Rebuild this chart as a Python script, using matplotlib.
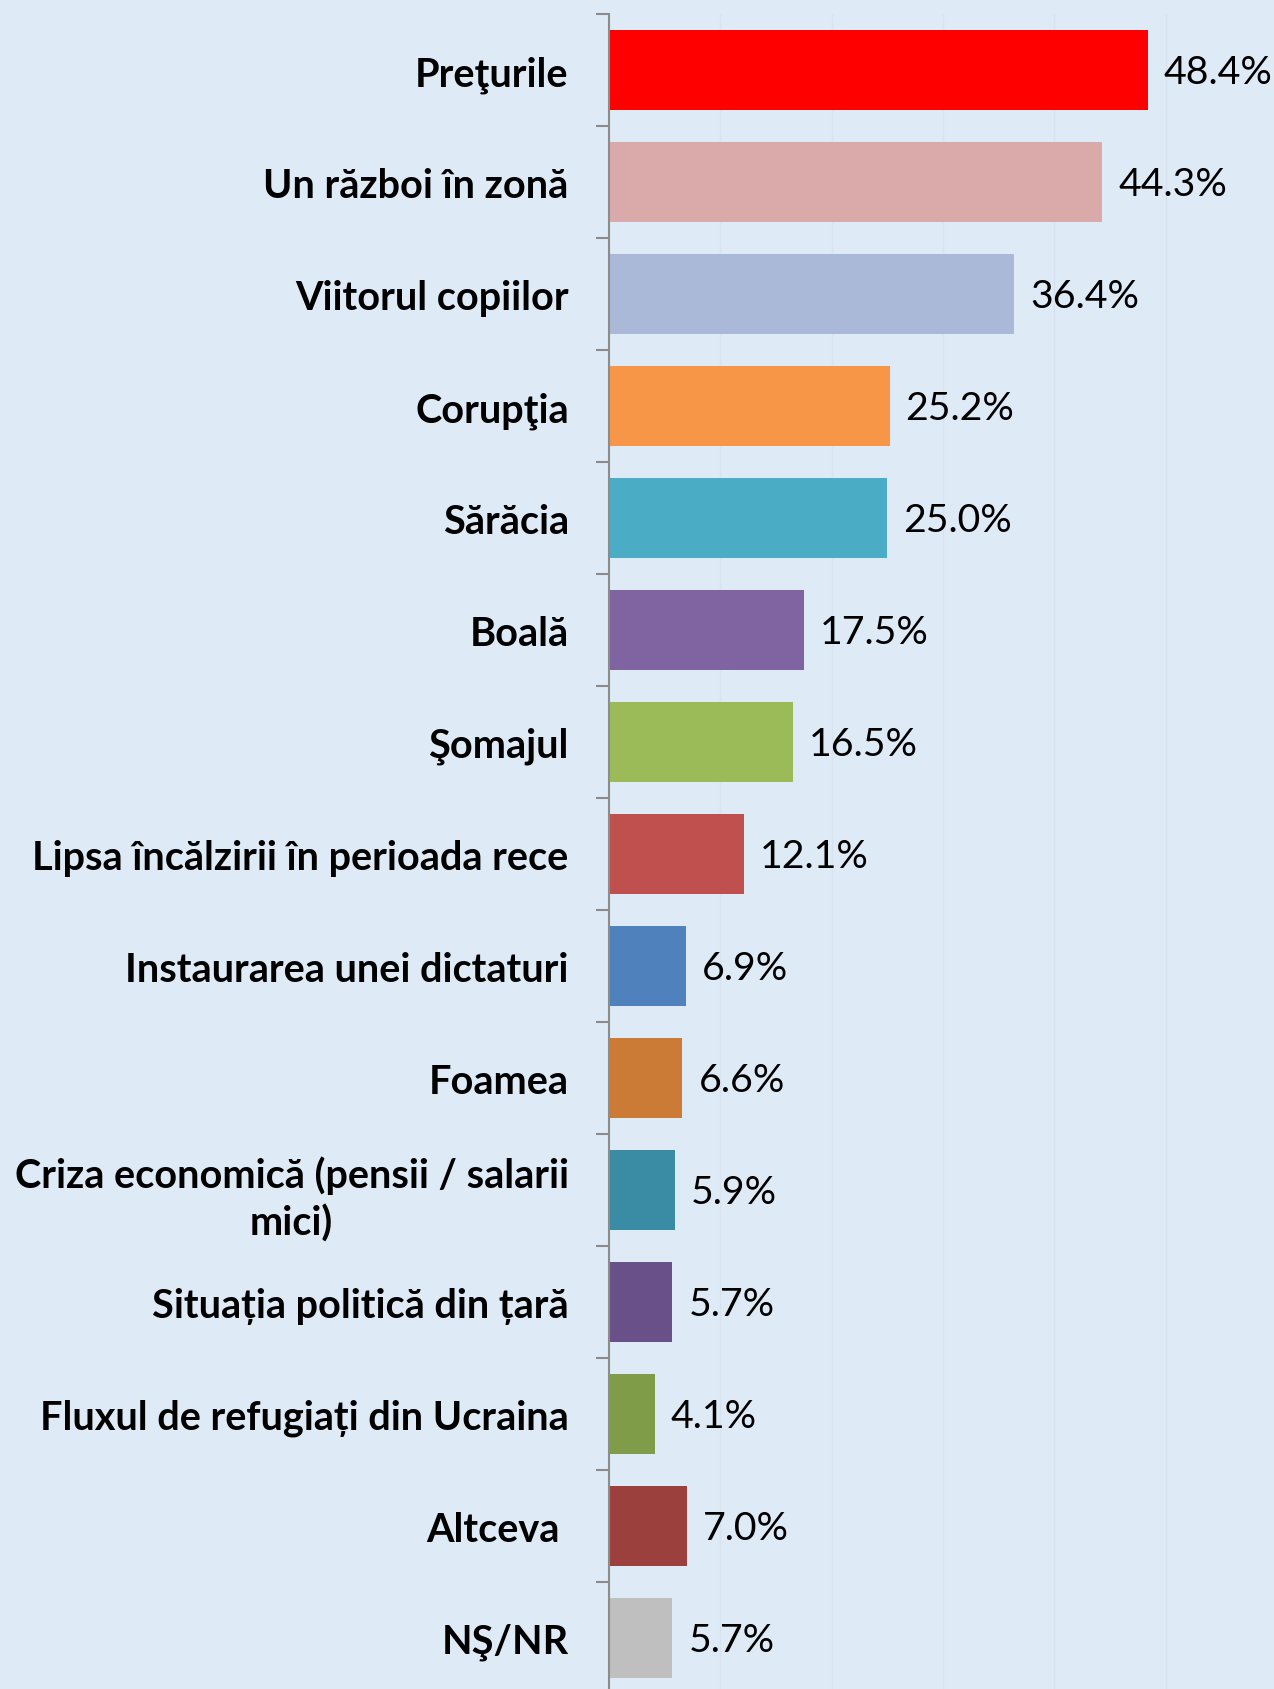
import matplotlib
matplotlib.use("Agg")
import matplotlib.pyplot as plt
import matplotlib.transforms as mtransforms
from matplotlib.ticker import MultipleLocator, FixedLocator

plt.rcParams['font.family'] = ['Lato', 'DejaVu Sans']

categories = [
    "Preţurile",
    "Un război în zonă",
    "Viitorul copiilor",
    "Corupţia",
    "Sărăcia",
    "Boală",
    "Şomajul",
    "Lipsa încălzirii în perioada rece",
    "Instaurarea unei dictaturi",
    "Foamea",
    "Criza economică (pensii / salarii\nmici)",
    "Situația politică din țară",
    "Fluxul de refugiați din Ucraina",
    "Altceva ",
    "NŞ/NR",
]
values = [48.4, 44.3, 36.4, 25.2, 25.0, 17.5, 16.5, 12.1, 6.9, 6.6, 5.9, 5.7, 4.1, 7.0, 5.7]
colors = ["#FF0000", "#DAAAAA", "#AAB9D7", "#F79646", "#4BACC6", "#8064A2",
          "#9BBB59", "#C0504D", "#4F81BD", "#CB7B36", "#3A8CA4", "#6A5088",
          "#7F9D48", "#9C403E", "#BFBFBF"]

BG = "#DEEAF6"
fig = plt.figure(figsize=(12.74, 16.90), dpi=100)
fig.patch.set_facecolor(BG)
ax = fig.add_axes([609/1274, -5/1690, (1277-609)/1274, (1690-10)/1690])
ax.set_facecolor(BG)

n = len(categories)
ypos = list(range(n))
ax.barh(ypos, values, height=0.71, color=colors, zorder=3)
ax.set_ylim(n - 0.5, -0.5)
ax.set_xlim(0, 60)

ax.xaxis.set_major_locator(MultipleLocator(10))
ax.grid(axis='x', color="#D8E3EF", linewidth=1.0, zorder=0)
ax.set_xticklabels([])
ax.tick_params(axis='x', length=0)

ax.set_yticks(ypos)
ax.set_yticklabels(categories, fontsize=28.5, fontweight='bold', color='black',
                   multialignment='center', linespacing=1.3)
shift = mtransforms.ScaledTranslation(0, 2.5/72, fig.dpi_scale_trans)
for lbl in ax.get_yticklabels():
    lbl.set_transform(lbl.get_transform() + shift)
ax.yaxis.set_minor_locator(FixedLocator([i - 0.5 for i in range(n + 1)]))
ax.tick_params(axis='y', which='major', length=0, pad=29)
ax.tick_params(axis='y', which='minor', length=9.5, width=1.5, color="#8C8C8C")

for s in ['top', 'right', 'bottom']:
    ax.spines[s].set_visible(False)
ax.spines['left'].set_color("#8C8C8C")
ax.spines['left'].set_linewidth(1.5)
ax.spines['left'].set_zorder(4)

for y, v in zip(ypos, values):
    ax.annotate(f"{v:.1f}%", xy=(v, y), xytext=(11.5, -1.5), textcoords='offset points',
                ha='left', va='center', fontsize=28.3, color='black')

fig.savefig("out.png", dpi=100, facecolor=BG)
